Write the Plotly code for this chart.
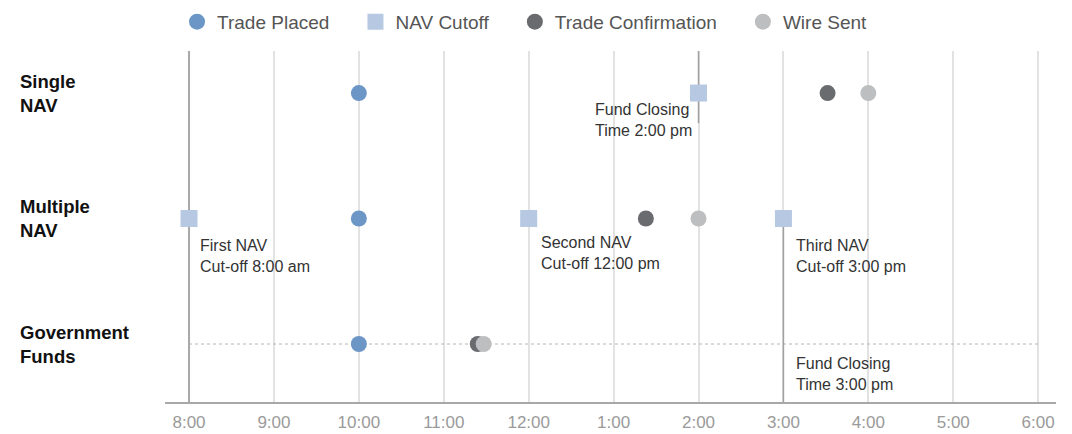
import plotly.graph_objects as go

# ---- data ----
categories = ["Single NAV", "Multiple NAV", "Government Funds"]
row_labels = ["Single<br>NAV", "Multiple<br>NAV", "Government<br>Funds"]

trade_placed = [10, 10, 10]            # hours (24h clock)
trade_confirmation = [15.52, 13.38, 11.40]
wire_sent = [16.0, 14.0, 11.47]

nav_cutoff_rows = ["Single NAV", "Multiple NAV", "Multiple NAV", "Multiple NAV"]
nav_cutoff_times = [14, 8, 12, 15]

tick_hours = [8, 9, 10, 11, 12, 13, 14, 15, 16, 17, 18]
tick_text = ["8:00", "9:00", "10:00", "11:00", "12:00", "1:00", "2:00",
             "3:00", "4:00", "5:00", "6:00"]

notes = [
    ("Single NAV", 14, "Fund Closing<br>Time 2:00 pm"),
    ("Multiple NAV", 8, "First NAV<br>Cut-off 8:00 am"),
    ("Multiple NAV", 12, "Second NAV<br>Cut-off 12:00 pm"),
    ("Multiple NAV", 15, "Third NAV<br>Cut-off 3:00 pm"),
    ("Government Funds", 15, "Fund Closing<br>Time 3:00 pm"),
]

# ---- styling ----
C_PLACED = "#6b96c6"
C_CUTOFF = "#b7c8e2"
C_CONF = "#6a6b6f"
C_WIRE = "#bdbebf"
FONT = "Liberation Sans, Arial, sans-serif"

order = ["Government Funds", "Multiple NAV", "Single NAV"]
idx = {c: i for i, c in enumerate(order)}
Y_RANGE = [-0.462, 2.335]
X_RANGE = [7.717, 18.21]
pad = "\u00a0" * 4

fig = go.Figure()
fig.add_trace(go.Scatter(x=trade_placed, y=categories, mode="markers",
                         name="Trade Placed" + pad,
                         marker=dict(symbol="circle", size=16, color=C_PLACED)))
fig.add_trace(go.Scatter(x=nav_cutoff_times, y=nav_cutoff_rows, mode="markers",
                         name="NAV Cutoff" + pad,
                         marker=dict(symbol="square", size=17, color=C_CUTOFF)))
fig.add_trace(go.Scatter(x=trade_confirmation, y=categories, mode="markers",
                         name="Trade Confirmation" + pad,
                         marker=dict(symbol="circle", size=16, color=C_CONF)))
fig.add_trace(go.Scatter(x=wire_sent, y=categories, mode="markers",
                         name="Wire Sent",
                         marker=dict(symbol="circle", size=16, color=C_WIRE)))

shapes = []
# dotted guide for government funds row
shapes.append(dict(type="line", xref="x", yref="y",
                   x0=tick_hours[0], x1=tick_hours[-1],
                   y0=idx["Government Funds"], y1=idx["Government Funds"],
                   line=dict(color="#b5b5b5", width=1, dash="dot"), layer="between"))
# cutoff reference lines
shapes.append(dict(type="line", xref="x", yref="y", x0=8, x1=8,
                   y0=Y_RANGE[0], y1=Y_RANGE[1],
                   line=dict(color="#a8a8a8", width=2), layer="between"))
shapes.append(dict(type="line", xref="x", yref="y", x0=14, x1=14,
                   y0=idx["Single NAV"] - 0.24, y1=Y_RANGE[1],
                   line=dict(color="#a0a0a0", width=1.5), layer="between"))
shapes.append(dict(type="line", xref="x", yref="y", x0=15, x1=15,
                   y0=Y_RANGE[0], y1=idx["Multiple NAV"],
                   line=dict(color="#a0a0a0", width=1.5), layer="between"))

annotations = []
for lab, cat in zip(row_labels, categories):
    annotations.append(dict(text="<b>" + lab + "</b>", xref="paper", yref="y",
                            x=-0.1650, y=idx[cat], xanchor="left", yanchor="middle",
                            align="left", showarrow=False,
                            font=dict(family=FONT, size=18.5, color="#111111")))

note_style = {
    ("Single NAV", 14): dict(xanchor="right", xshift=-5, yshift=-27),
    ("Multiple NAV", 8): dict(xanchor="left", xshift=9, yshift=-37),
    ("Multiple NAV", 12): dict(xanchor="left", xshift=10, yshift=-34),
    ("Multiple NAV", 15): dict(xanchor="left", xshift=11, yshift=-37),
    ("Government Funds", 15): dict(xanchor="left", xshift=11, yshift=-30),
}
for cat, t, txt in notes:
    st = note_style[(cat, t)]
    annotations.append(dict(text=txt, xref="x", yref="y", x=t, y=idx[cat],
                            yanchor="middle", align="left", showarrow=False,
                            font=dict(family=FONT, size=16, color="#333333"), **st))

fig.update_layout(
    width=1072, height=434,
    margin=dict(l=165, r=16, t=51, b=32, autoexpand=False),
    paper_bgcolor="white", plot_bgcolor="white",
    font=dict(family=FONT),
    showlegend=True,
    legend=dict(orientation="h", x=0.0135, xanchor="left", y=1.083, yanchor="middle",
                font=dict(family=FONT, size=19, color="#555555"),
                bgcolor="rgba(0,0,0,0)", itemclick=False, itemdoubleclick=False),
    shapes=shapes, annotations=annotations,
    hovermode=False,
)
fig.update_xaxes(range=X_RANGE, tickvals=tick_hours, ticktext=tick_text,
                 showgrid=True, gridcolor="#e2e2e2", gridwidth=1.5,
                 showline=True, linecolor="#a8a8a8", linewidth=2,
                 ticks="", ticklabelstandoff=4, zeroline=False, automargin=False,
                 tickfont=dict(family=FONT, size=17, color="#9a9a9a"))
fig.update_yaxes(type="category", categoryorder="array", categoryarray=order,
                 range=Y_RANGE, showgrid=False, showticklabels=False,
                 zeroline=False, showline=False, automargin=False)

fig.write_html("out.html", config={"displayModeBar": False},
               post_script="document.body.style.margin='0';document.body.style.overflow='hidden';")
